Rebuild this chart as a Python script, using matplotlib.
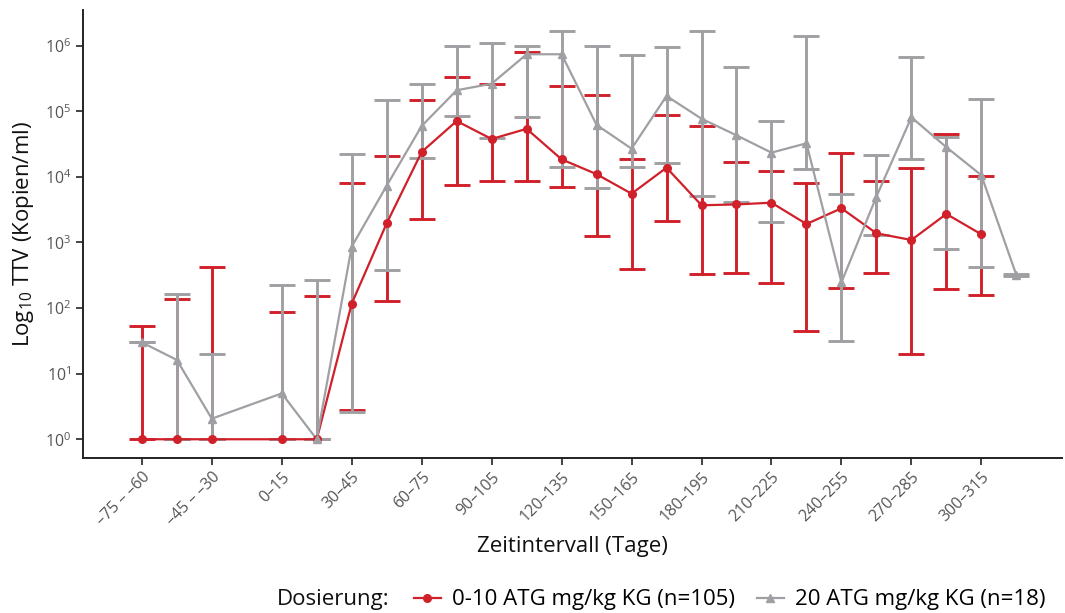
import numpy as np
import matplotlib
import matplotlib.pyplot as plt
from matplotlib.lines import Line2D

matplotlib.use('Agg')

plt.rcParams['font.family'] = ['Open Sans', 'DejaVu Sans']
plt.rcParams['mathtext.fontset'] = 'custom'
plt.rcParams['mathtext.rm'] = 'Open Sans'
plt.rcParams['mathtext.it'] = 'Open Sans:italic'

# time intervals (days); one empty slot between -45..-30 and 0..15
intervals = ['–75 – –60', '–60 – –45', '–45 – –30', '–30 – –15', '0–15', '15–30',
             '30–45', '45–60', '60–75', '75–90', '90–105', '105–120', '120–135',
             '135–150', '150–165', '165–180', '180–195', '195–210', '210–225',
             '225–240', '240–255', '255–270', '270–285', '285–300', '300–315',
             '315–330']
nan = np.nan

# 0-10 ATG mg/kg KG
low_mid = [1, 1, 1, nan, 1, 1, 117, 1960, 24000, 71000, 37800, 54000, 18500,
           11000, 5540, 13800, 3690, 3800, 4040, 1910, 3320, 1380, 1090, 2720,
           1330, nan]
low_lo = [1, 1, 1, nan, 1, 1, 2.8, 128, 2280, 7600, 8550, 8650, 6930,
          1260, 400, 2130, 327, 343, 244, 45, 204, 346, 19.8, 194,
          158, nan]
low_hi = [52.7, 136, 423, nan, 87, 151, 8000, 20800, 150000, 337000, 264000,
          800000, 246000, 177000, 19000, 89000, 59700, 17000, 12200, 8170,
          22900, 8650, 13500, 45100, 10400, nan]

# 20 ATG mg/kg KG
high_mid = [30, 16.2, 2.06, nan, 5.0, 1, 863, 7340, 59700, 209000, 263000,
            740000, 740000, 62000, 26900, 171000, 77000, 43000, 23400, 32500,
            247, 4990, 81000, 28300, 10600, 319]
high_lo = [30, 1, 1, nan, 1, 1, 2.6, 377, 19200, 85000, 38700, 82800, 14300,
           6800, 14000, 16100, 5120, 4140, 2030, 13200, 31, 1290, 18700, 788,
           419, 310]
high_hi = [30, 162, 20.2, nan, 225, 268, 22100, 150000, 260000, 990000,
           1090000, 980000, 1690000, 990000, 715000, 945000, 1670000, 473000,
           70400, 1390000, 5430, 21300, 680000, 41000, 156000, 330]

series = [
    ('0-10 ATG mg/kg KG (n=105)', low_mid, low_lo, low_hi, '#D0202A', 'o'),
    ('20 ATG mg/kg KG (n=18)', high_mid, high_lo, high_hi, '#A0A0A4', '^'),
]

fig = plt.figure(figsize=(10.65, 6.13), dpi=100)
ax = fig.add_axes([0.078, 0.2524, 0.919, 0.7313])

x_all = np.arange(len(intervals))
handles = []
for i, (name, mid, lo, hi, col, mk) in enumerate(series):
    mid = np.array(mid, float)
    lo = np.array(lo, float)
    hi = np.array(hi, float)
    ok = ~np.isnan(mid)
    x = x_all[ok]
    ax.errorbar(x, mid[ok], yerr=[mid[ok] - lo[ok], hi[ok] - mid[ok]], fmt='none',
                ecolor=col, elinewidth=2.1, capsize=9.5, capthick=2.1, zorder=2 + i)
    ax.plot(x, mid[ok], color=col, lw=1.6, zorder=4 + i)
    ax.plot(x, mid[ok], ls='none', marker=mk, ms=5.5, color=col, zorder=6 + i)
    handles.append(Line2D([], [], color=col, lw=1.6, marker=mk, ms=5.5, label=name))

ax.set_yscale('log')
ax.set_ylim(10 ** -0.29, 10 ** 6.544)
ax.set_xlim(-1.68, 26.3)
ax.set_yticks([10 ** k for k in range(7)])
ax.set_yticklabels([rf'$\mathregular{{10^{{{k}}}}}$' for k in range(7)])
ax.yaxis.set_minor_locator(matplotlib.ticker.NullLocator())
ax.set_xticks(x_all[:-1:2])
ax.set_xticklabels(intervals[:-1:2][:2] + intervals[4:-1:2], rotation=45, ha='right',
                   rotation_mode='anchor')

for s in ['top', 'right']:
    ax.spines[s].set_visible(False)
for s in ['left', 'bottom']:
    ax.spines[s].set_linewidth(1.4)
    ax.spines[s].set_color('#222222')
ax.tick_params(axis='both', length=5, width=1.2, color='#222222', labelcolor='#555555',
               labelsize=11.5)
ax.tick_params(axis='x', pad=3)

ax.set_xlabel('Zeitintervall (Tage)', fontsize=16, color='#111111', labelpad=5)
ax.set_ylabel(r'Log$_{10}$ TTV (Kopien/ml)', fontsize=16, color='#111111', labelpad=6)

fig.text(277 / 1065, 1 - 600 / 613, 'Dosierung:', fontsize=16, ha='left', va='center',
         color='#111111')
fig.legend(handles=handles, loc='center left', bbox_to_anchor=(414 / 1065, 1 - 600 / 613),
           ncol=2, frameon=False, fontsize=16, handlelength=1.2, handletextpad=0.5,
           columnspacing=1.0, borderpad=0, borderaxespad=0)

fig.savefig('out.png', dpi=100)
